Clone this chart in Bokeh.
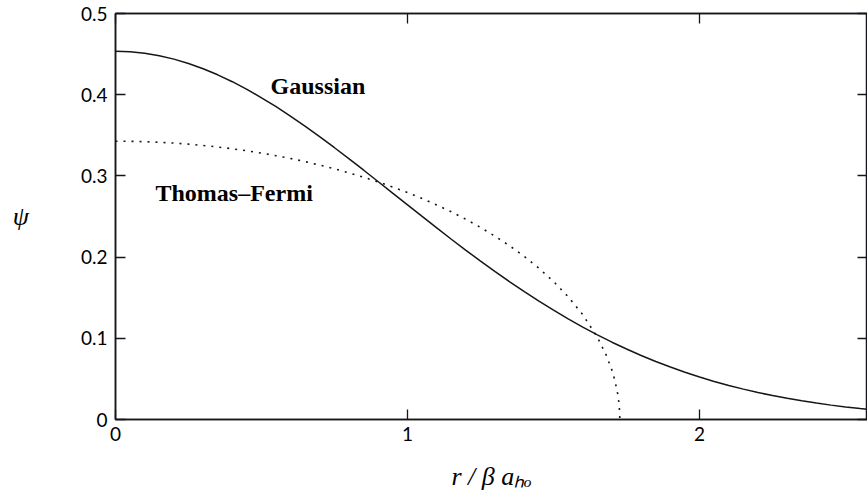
from bokeh.plotting import figure
from bokeh.models import Label, LinearAxis, Range1d, FixedTicker
from bokeh.embed import file_html
from bokeh.resources import INLINE

# Data
gauss_r = [0.0, 0.05, 0.1, 0.15, 0.2, 0.25, 0.3, 0.35, 0.4, 0.45, 0.5, 0.55, 0.6,
           0.65, 0.7, 0.75, 0.8, 0.85, 0.9, 0.95, 1.0, 1.05, 1.1, 1.15, 1.2, 1.25,
           1.3, 1.35, 1.4, 1.45, 1.5, 1.55, 1.6, 1.65, 1.7, 1.75, 1.8, 1.85, 1.9,
           1.95, 2.0, 2.05, 2.1, 2.15, 2.2, 2.25, 2.3, 2.35, 2.4, 2.45, 2.5, 2.55,
           2.6]
gauss_psi = [0.4535, 0.4529, 0.451, 0.448, 0.4438, 0.4384, 0.432, 0.4245, 0.416,
             0.4065, 0.3962, 0.3852, 0.3734, 0.361, 0.3481, 0.3347, 0.321, 0.307,
             0.2928, 0.2785, 0.2643, 0.2501, 0.236, 0.222, 0.2084, 0.195, 0.1821,
             0.1695, 0.1574, 0.1457, 0.1346, 0.1239, 0.1138, 0.1043, 0.0952,
             0.0868, 0.0788, 0.0714, 0.0646, 0.0582, 0.0523, 0.0469, 0.0419,
             0.0374, 0.0332, 0.0295, 0.0261, 0.023, 0.0202, 0.0177, 0.0155,
             0.0136, 0.0118]

tf_r = [0.0, 0.05, 0.1, 0.15, 0.2, 0.25, 0.3, 0.35, 0.4, 0.45, 0.5, 0.55, 0.6,
        0.65, 0.7, 0.75, 0.8, 0.85, 0.9, 0.95, 1.0, 1.05, 1.1, 1.15, 1.2, 1.25,
        1.3, 1.35, 1.4, 1.45, 1.5, 1.55, 1.6, 1.65, 1.68, 1.70, 1.71, 1.72,
        1.725, 1.727]
tf_psi = [0.3427, 0.3426, 0.3421, 0.3414, 0.3404, 0.3391, 0.3375, 0.3356, 0.3334,
          0.3309, 0.328, 0.3249, 0.3214, 0.3175, 0.3133, 0.3087, 0.3037, 0.2983,
          0.2925, 0.2862, 0.2794, 0.2721, 0.2642, 0.2557, 0.2465, 0.2365, 0.2256,
          0.2138, 0.2007, 0.1862, 0.1699, 0.1512, 0.1291, 0.1013, 0.0795, 0.0605,
          0.0481, 0.031, 0.0171, 0.0]

x_ticks = [0, 1, 2]
x_tick_labels = ["0", "1", "2"]
y_ticks = [0, 0.1, 0.2, 0.3, 0.4, 0.5]
y_tick_labels = ["0", "0.1", "0.2", "0.3", "0.4", "0.5"]

INK = "#15151c"
TICK_FONT = "Lato"
SERIF = "Liberation Serif"

p = figure(width=867, height=493, output_backend="svg", toolbar_location=None,
           x_range=Range1d(0, 2.575), y_range=Range1d(0, 0.5),
           min_border_left=115, min_border_right=0, min_border_top=13,
           min_border_bottom=0, background_fill_color="white",
           border_fill_color="white")
p.grid.visible = False
p.outline_line_color = INK
p.outline_line_width = 1.5

for ax, ticks, labels in ((p.xaxis[0], x_ticks, x_tick_labels),
                          (p.yaxis[0], y_ticks, y_tick_labels)):
    ax.ticker = FixedTicker(ticks=ticks)
    ax.major_label_overrides = {t: l for t, l in zip(ticks, labels)}
    ax.minor_tick_line_color = None
    ax.major_tick_in = 10
    ax.major_tick_out = 0
    ax.major_tick_line_color = INK
    ax.major_tick_line_width = 1.3
    ax.axis_line_color = INK
    ax.axis_line_width = 1.5
    ax.major_label_text_font = TICK_FONT
    ax.major_label_text_font_size = "19px"
    ax.major_label_text_color = "black"
    ax.axis_label_text_font = SERIF
    ax.axis_label_text_font_style = "italic"
    ax.axis_label_text_color = "black"
p.xaxis.major_label_standoff = 7
p.yaxis.major_label_standoff = 8

p.xaxis.axis_label = "r / β aₕₒ"
p.xaxis.axis_label_text_font_size = "26px"
p.xaxis.axis_label_standoff = 18

p.yaxis.axis_label = "ψ"
p.yaxis.axis_label_text_font_size = "26px"
p.yaxis.axis_label_orientation = "horizontal"
p.yaxis.axis_label_standoff = 49

# mirrored ticks on top and right
top = LinearAxis(ticker=FixedTicker(ticks=x_ticks))
right = LinearAxis(ticker=FixedTicker(ticks=y_ticks))
for ax in (top, right):
    ax.major_label_text_font_size = "0px"
    ax.major_label_standoff = 0
    ax.minor_tick_line_color = None
    ax.major_tick_in = 10
    ax.major_tick_out = 0
    ax.major_tick_line_color = INK
    ax.major_tick_line_width = 1.3
    ax.axis_line_color = INK
    ax.axis_line_width = 1.5
p.add_layout(top, "above")
p.add_layout(right, "right")

p.line(gauss_r, gauss_psi, line_color=INK, line_width=1.5)
p.line(tf_r, tf_psi, line_color=INK, line_width=1.6, line_dash="2 6")

p.add_layout(Label(x=0.531, y=0.411, text="Gaussian", text_font=SERIF,
                   text_font_size="24px", text_font_style="bold",
                   text_color="black", text_baseline="alphabetic"))
p.add_layout(Label(x=0.137, y=0.2787, text="Thomas–Fermi", text_font=SERIF,
                   text_font_size="24px", text_font_style="bold",
                   text_color="black", text_baseline="alphabetic"))

open("out.html", "w").write(file_html(p, INLINE))
